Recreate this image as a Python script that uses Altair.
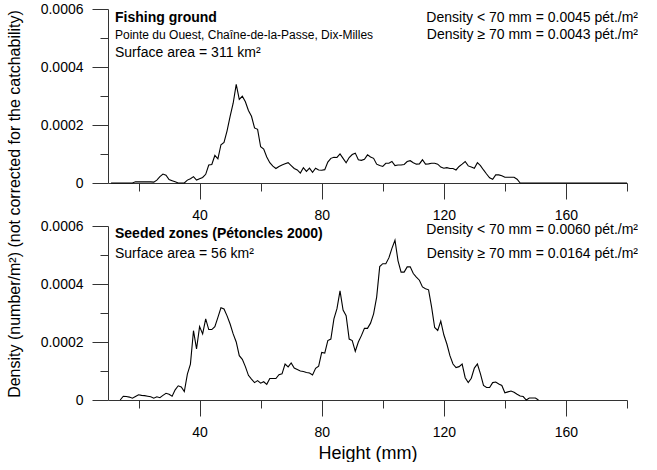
import altair as alt
import pandas as pd

FONT = "Liberation Sans"

# ---- data (height in mm, density in number/m2) ----
top_height = [11, 18, 19, 24, 25, 26, 27, 28, 29, 30, 31, 32, 33, 35, 36, 37, 38, 39,
              40, 41, 42, 43, 44, 45, 46, 47, 48, 49, 50, 51, 52, 53, 54, 55, 56, 57,
              58, 59, 60, 61, 62, 63, 64, 65, 66, 67, 68, 69, 70, 71, 72, 73, 74, 75,
              76, 77, 78, 79, 80, 81, 82, 83, 84, 85, 86, 87, 88, 89, 90, 91, 92, 93,
              94, 95, 96, 97, 98, 99, 100, 101, 102, 103, 104, 105, 106, 107, 108, 109,
              110, 111, 112, 113, 114, 115, 116, 117, 118, 119, 120, 121, 122, 123, 124,
              125, 126, 127, 128, 129, 130, 131, 132, 133, 134, 135, 136, 137, 138, 139,
              140, 141, 142, 143, 144, 145, 180]
top_density = [0, 0, 0.000004, 0.000004, 0.000003, 0.00001, 0.000022, 0.000031, 0.000027,
               0.000012, 0.000008, 0.000004, 0, 0, 0.00001, 0.000015, 0.000022, 0.00001,
               0.000015, 0.000019, 0.00003, 0.000062, 0.000064, 0.000095, 0.000083,
               0.000132, 0.00014, 0.00018, 0.00023, 0.000275, 0.00034, 0.000288, 0.000299,
               0.00028, 0.00025, 0.00023, 0.00019, 0.000185, 0.000125, 0.000117, 0.00009,
               0.00007, 0.000058, 0.00005, 0.000057, 0.000062, 0.000066, 0.00007, 0.00006,
               0.00005, 0.000045, 0.000034, 0.000053, 0.00004, 0.000051, 0.000037,
               0.000051, 0.000045, 0.000044, 0.000046, 0.000072, 0.000085, 0.000089,
               0.000088, 0.0001, 0.000085, 0.00007, 0.000088, 0.000098, 0.000103, 0.00008,
               0.000078, 0.000082, 0.000097, 0.00009, 0.000085, 0.000065, 0.00006,
               0.000057, 0.000068, 0.000068, 0.000074, 0.00006, 0.000062, 0.000062,
               0.000064, 0.000074, 0.000077, 0.00007, 0.000065, 0.000066, 0.00008,
               0.000065, 0.000066, 0.000068, 0.000068, 0.000065, 0.000055, 0.000051,
               0.000053, 0.00005, 0.00005, 0.000045, 0.000057, 0.000065, 0.000074,
               0.000059, 0.000055, 0.000051, 0.00007, 0.00006, 0.000045, 0.000031,
               0.000018, 0.000013, 0.000028, 0.000028, 0.000025, 0.00002, 0.00002,
               0.00002, 0.00002, 0.000013, 0, 0]

bot_height = [14, 15, 16, 17, 18, 19, 20, 21, 22, 23, 24, 25, 26, 27, 28, 29, 30, 31, 32,
              33, 34, 35, 36, 37, 38, 39, 40, 41, 42, 43, 44, 45, 46, 47, 48, 49, 50, 51,
              52, 53, 54, 55, 56, 57, 58, 59, 60, 61, 62, 63, 64, 65, 66, 67, 68, 69, 70,
              71, 72, 73, 74, 75, 76, 77, 78, 79, 80, 81, 82, 83, 84, 85, 86, 87, 88, 89,
              90, 91, 92, 93, 94, 95, 96, 97, 98, 99, 100, 101, 102, 103, 104, 105, 106,
              107, 108, 109, 110, 111, 112, 113, 114, 115, 116, 117, 118, 119, 120, 121,
              122, 123, 124, 125, 126, 127, 128, 129, 130, 131, 132, 133, 134, 135, 136,
              137, 138, 139, 140, 141, 142, 143, 144, 145, 146, 147, 148, 150, 151]
bot_density = [0, 0.000013, 0.000012, 0.00001, 0.000006, 0.000012, 0.000018, 0.000016,
               0.000015, 0.000013, 0.000011, 0.000006, 0.000011, 0.000008, 0.000016,
               0.000023, 0.00002, 0.000013, 0.000035, 0.000049, 0.000045, 0.000029,
               0.000089, 0.000124, 0.000239, 0.000176, 0.000253, 0.000228, 0.00028,
               0.000243, 0.000243, 0.000253, 0.000285, 0.000318, 0.000314, 0.00029,
               0.000262, 0.000228, 0.0002, 0.000153, 0.00014, 0.000115, 0.000085,
               0.000072, 0.00006, 0.000067, 0.000058, 0.000063, 0.000054, 0.000074,
               0.000074, 0.000074, 0.000087, 0.00009, 0.000124, 0.000114, 0.000128,
               0.00011, 0.000105, 0.0001, 0.000098, 0.000095, 0.000093, 0.000086,
               0.000109, 0.000117, 0.000164, 0.000162, 0.000205, 0.00021, 0.00028,
               0.000315, 0.000376, 0.00031, 0.000291, 0.00021, 0.000205, 0.000168,
               0.0002, 0.000222, 0.000247, 0.000247, 0.000265, 0.000297, 0.000355,
               0.00046, 0.00047, 0.00047, 0.00049, 0.000523, 0.000551, 0.00048, 0.000441,
               0.000441, 0.000459, 0.000459, 0.000436, 0.000424, 0.000413, 0.00039,
               0.000384, 0.00038, 0.00032, 0.00025, 0.00024, 0.000272, 0.000225,
               0.000193, 0.000153, 0.000124, 0.000112, 0.000115, 0.000124, 0.000077,
               0.00006, 0.000075, 0.00011, 0.000124, 0.00009, 0.00005, 0.000043,
               0.000043, 0.00006, 0.000062, 0.000055, 0.00005, 0.000025, 0.000028,
               0.000031, 0.000027, 0.00002, 0.000014, 0.000012, 0, 0.000007, 0.000007, 0]

x_major = [40, 80, 120, 160]
x_minor = [20, 60, 100, 140, 180]
y_major = [0, 0.0002, 0.0004, 0.0006]
y_minor = [0.0001, 0.0003, 0.0005]

top_title = "Fishing ground"
top_sub = "Pointe du Ouest, Chaîne-de-la-Passe, Dix-Milles"
top_area = "Surface area = 311 km²"
top_d1 = "Density < 70 mm = 0.0045 pét./m²"
top_d2 = "Density ≥ 70 mm = 0.0043 pét./m²"

bot_title = "Seeded zones (Pétoncles 2000)"
bot_area = "Surface area = 56 km²"
bot_d1 = "Density < 70 mm = 0.0060 pét./m²"
bot_d2 = "Density ≥ 70 mm = 0.0164 pét./m²"

y_title = "Density (number/m²) (not corrected for the catchability)"
x_title = "Height (mm)"

W, H = 519, 174
AX = "#333333"


def txt(s, x, y, size=14, weight="normal", align="left", angle=0):
    kw = dict(align=align, baseline="middle", fontSize=size, fontWeight=weight,
              font=FONT, color="black")
    if angle:
        kw["angle"] = angle
    return alt.Chart(pd.DataFrame({"t": [s]})).mark_text(**kw).encode(
        x=alt.value(x), y=alt.value(y), text="t:N")


def panel(h, d, texts, show_title):
    df = pd.DataFrame({"h": h, "d": d})
    xs = alt.Scale(domain=[10, 180], nice=False, zero=False)
    ys = alt.Scale(domain=[0, 0.0006], nice=False)
    xkw = dict(values=x_major, tickSize=16, labelPadding=9, grid=False,
               labelFontSize=14, labelFont=FONT, labelColor="black",
               domainColor=AX, tickColor=AX, orient="bottom")
    if show_title:
        xkw.update(title=x_title, titleFontSize=18, titleFont=FONT,
                   titleFontWeight="normal", titleColor="black", titlePadding=5)
    else:
        xkw.update(title=None)
    line = alt.Chart(df).mark_line(color="black", strokeWidth=1.1).encode(
        x=alt.X("h:Q", scale=xs, axis=alt.Axis(**xkw)),
        y=alt.Y("d:Q", scale=ys, axis=alt.Axis(
            values=y_major, tickSize=16, labelPadding=9, grid=False, title=None,
            labelFontSize=14, labelFont=FONT, labelColor="black",
            domainColor=AX, tickColor=AX, orient="left",
            labelExpr="datum.value == 0 ? '0' : format(datum.value, '.4f')")),
    )
    minor = alt.Chart(df).mark_line(opacity=0).encode(
        x=alt.X("h:Q", scale=xs, axis=alt.Axis(
            values=x_minor, tickSize=8, labels=False, domain=False, grid=False,
            title=None, tickColor=AX, orient="bottom")),
        y=alt.Y("d:Q", scale=ys, axis=alt.Axis(
            values=y_minor, tickSize=8, labels=False, domain=False, grid=False,
            title=None, tickColor=AX, orient="left")),
    )
    return alt.layer(line, minor, *texts).resolve_axis(
        x="independent", y="independent").properties(width=W, height=H)


top = panel(top_height, top_density, [
    txt(top_title, 7, 9, 14, "bold"),
    txt(top_sub, 7, 26, 12),
    txt(top_area, 7, 44, 14),
    txt(top_d1, 530, 9, 14, align="right"),
    txt(top_d2, 530, 26, 14, align="right"),
    txt(y_title, -93, 195, 16, angle=270, align="center"),
], False)

bottom = panel(bot_height, bot_density, [
    txt(bot_title, 7, 8, 14, "bold"),
    txt(bot_area, 7, 28, 14),
    txt(bot_d1, 530, 4, 14, align="right"),
    txt(bot_d2, 530, 28, 14, align="right"),
], True)

chart = alt.vconcat(top, bottom, spacing=43, bounds="flush").properties(
    padding={"left": 6, "top": 2, "right": 0, "bottom": 0},
    background="white",
).configure_view(stroke=None)

chart.save("out.html", embed_options={"renderer": "svg", "actions": False})
